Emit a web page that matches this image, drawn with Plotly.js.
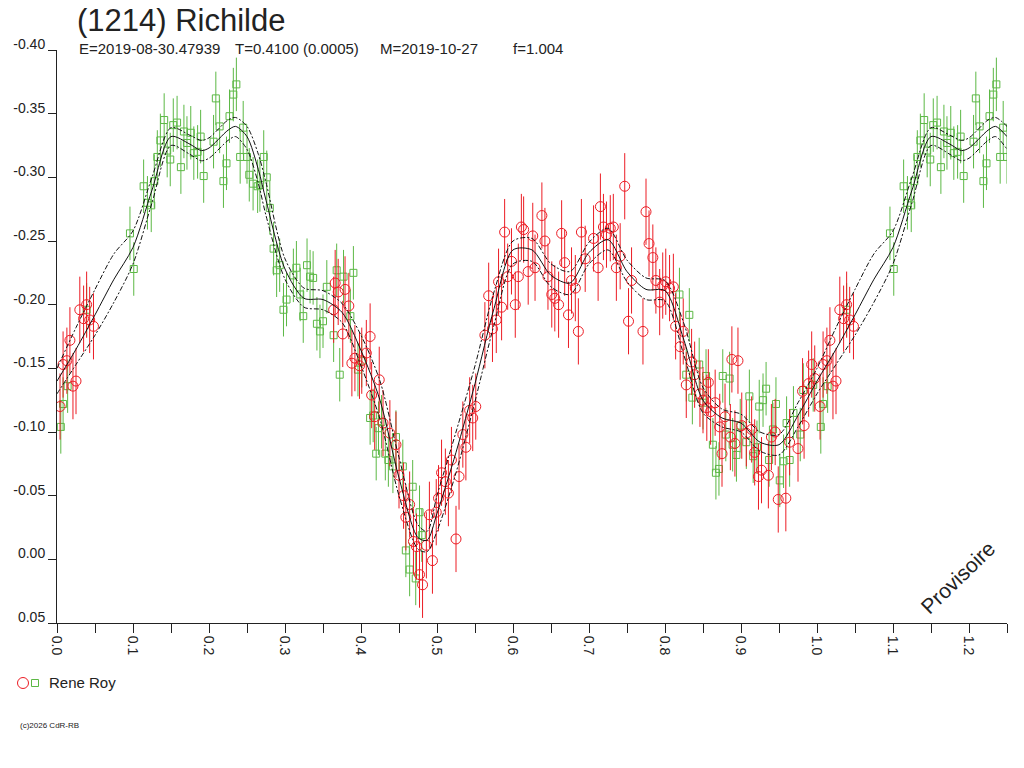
<!DOCTYPE html>
<html>
<head>
<meta charset="utf-8">
<script src="https://cdn.plot.ly/plotly-3.0.1.min.js"></script>
<style>
  html, body { margin: 0; padding: 0; background: #fff; }
  #chart { width: 1024px; height: 768px; }
</style>
</head>
<body>
<div id="chart"></div>
<script>
// observations, phase 0..1 (re-plotted up to 1.25)
let greenPhase = [0.005,0.008,0.014,0.039,0.096,0.101,0.114,0.119,0.124,0.128,0.132,0.136,0.141,0.145,
  0.149,0.153,0.158,0.163,0.167,0.171,0.176,0.180,0.185,0.189,0.193,0.206,0.209,0.214,0.219,0.223,0.227,
  0.232,0.236,0.241,0.245,0.250,0.253,0.258,0.264,0.267,0.272,0.276,0.280,0.285,0.289,0.293,0.298,0.302,
  0.311,0.315,0.320,0.324,0.329,0.333,0.337,0.342,0.346,0.350,0.355,0.364,0.368,0.372,0.377,0.386,0.390,
  0.396,0.401,0.412,0.416,0.420,0.423,0.427,0.432,0.436,0.442,0.446,0.455,0.468,0.477,0.480,0.459,0.464,
  0.472,0.819,0.832,0.828,0.836,0.845,0.854,0.850,0.863,0.867,0.871,0.876,0.885,0.880,0.889,0.894,0.899,
  0.907,0.911,0.916,0.921,0.924,0.929,0.933,0.937,0.942,0.946,0.951,0.956,0.960,0.964,0.969,0.978,0.982,0.995];
let greenMag = [-0.104,-0.122,-0.136,-0.196,-0.256,-0.228,-0.293,-0.280,-0.278,-0.297,-0.316,-0.329,-0.345,-0.321,
  -0.314,-0.341,-0.343,-0.308,-0.336,-0.327,-0.335,-0.319,-0.320,-0.332,-0.301,-0.328,-0.362,-0.340,-0.297,-0.311,-0.348,
  -0.365,-0.373,-0.316,-0.339,-0.316,-0.302,-0.295,-0.293,-0.294,-0.316,-0.300,-0.276,-0.244,-0.227,-0.231,-0.196,-0.204,
  -0.223,-0.229,-0.208,-0.191,-0.231,-0.222,-0.221,-0.185,-0.179,-0.187,-0.214,-0.176,-0.227,-0.145,-0.222,-0.191,-0.225,
  -0.149,-0.156,-0.111,-0.113,-0.083,-0.103,-0.108,-0.083,-0.078,-0.073,-0.096,-0.073,-0.057,-0.037,-0.019,-0.007,0.008,
  0.015,-0.208,-0.192,-0.145,-0.127,-0.153,-0.144,-0.123,-0.090,-0.068,-0.071,-0.144,-0.142,-0.098,-0.090,-0.082,-0.105,
  -0.092,-0.128,-0.081,-0.088,-0.120,-0.125,-0.134,-0.078,-0.102,-0.122,-0.062,-0.077,-0.107,-0.078,-0.115,-0.098,-0.133,-0.137];
let greenErr = 0.021;

let redPhase = [0.004,0.008,0.013,0.017,0.021,0.025,0.030,0.035,0.039,0.043,0.048,
  0.364,0.366,0.370,0.376,0.379,0.384,0.388,0.392,0.398,0.401,0.407,0.412,0.414,0.418,0.424,0.429,0.438,0.446,0.450,0.456,
  0.459,0.464,0.469,0.473,0.477,0.481,0.486,0.490,0.494,0.499,0.502,0.506,0.511,0.515,0.519,0.525,0.529,0.534,0.538,0.543,
  0.547,0.551,0.563,0.568,0.573,0.578,0.581,0.585,0.589,0.593,0.598,0.603,0.607,0.611,0.614,0.620,0.626,0.629,0.638,0.642,
  0.646,0.651,0.655,0.660,0.664,0.668,0.673,0.677,0.682,0.686,0.690,0.695,0.706,0.712,0.715,0.719,0.723,0.728,0.732,0.736,
  0.741,0.747,0.752,0.756,0.771,0.775,0.779,0.784,0.788,0.793,0.797,0.801,0.806,0.811,0.814,0.820,0.824,0.828,0.835,0.839,
  0.846,0.855,0.857,0.850,0.866,0.860,0.872,0.879,0.888,0.896,0.875,0.886,0.892,0.901,0.907,0.914,0.918,0.923,0.927,0.936,
  0.940,0.945,0.949,0.959,0.964,0.975,0.983,0.981,0.989,0.993,0.997];
let redMag = [-0.120,-0.153,-0.156,-0.172,-0.136,-0.140,-0.196,-0.189,-0.200,-0.188,-0.183,
  -0.196,-0.217,-0.210,-0.177,-0.212,-0.199,-0.154,-0.158,-0.152,-0.156,-0.162,-0.175,-0.129,-0.112,-0.141,-0.107,-0.099,-0.090,-0.066,-0.050,
  -0.033,-0.043,-0.014,-0.010,0.012,0.020,-0.011,-0.035,0.001,-0.037,-0.048,-0.068,-0.061,-0.052,-0.078,-0.016,-0.065,-0.098,-0.088,-0.117,
  -0.111,-0.120,-0.176,-0.207,-0.181,-0.188,-0.218,-0.198,-0.257,-0.222,-0.234,-0.200,-0.222,-0.261,-0.259,-0.226,-0.254,-0.229,-0.270,-0.250,
  -0.222,-0.208,-0.205,-0.200,-0.256,-0.233,-0.192,-0.219,-0.213,-0.179,-0.257,-0.236,-0.252,-0.229,-0.277,-0.261,-0.255,-0.260,-0.261,-0.229,
  -0.238,-0.293,-0.187,-0.219,-0.179,-0.273,-0.248,-0.237,-0.219,-0.202,-0.215,-0.218,-0.213,-0.214,-0.183,-0.167,-0.179,-0.137,-0.155,-0.145,
  -0.130,-0.119,-0.139,-0.125,-0.123,-0.116,-0.104,-0.112,-0.157,-0.156,-0.083,-0.096,-0.091,-0.105,-0.099,-0.102,-0.084,-0.065,-0.070,-0.066,
  -0.096,-0.100,-0.047,-0.048,-0.092,-0.087,-0.105,-0.132,-0.138,-0.153,-0.142];
let redErr = 0.026;

// fitted curve and its envelope
let fitPhase = [0,0.025,0.05,0.075,0.1,0.125,0.15,0.175,0.19,0.2,0.225,0.235,0.25,0.265,0.275,0.3,0.325,0.35,0.375,
  0.4,0.425,0.45,0.475,0.487,0.5,0.525,0.55,0.575,0.6,0.625,0.65,0.675,0.7,0.725,0.75,0.775,0.8,0.825,0.85,0.875,
  0.9,0.925,0.95,0.975,1.0];
let fitMid = [-0.140,-0.165,-0.192,-0.220,-0.245,-0.290,-0.332,-0.326,-0.321,-0.323,-0.337,-0.340,-0.332,-0.306,-0.282,
  -0.228,-0.205,-0.204,-0.194,-0.164,-0.125,-0.064,-0.017,-0.015,-0.036,-0.084,-0.138,-0.197,-0.243,-0.243,-0.223,-0.217,
  -0.241,-0.251,-0.226,-0.212,-0.211,-0.172,-0.125,-0.111,-0.107,-0.092,-0.090,-0.113,-0.140];
let fitHigh = [-0.150,-0.182,-0.212,-0.240,-0.258,-0.300,-0.339,-0.333,-0.329,-0.331,-0.345,-0.347,-0.340,-0.318,-0.296,
  -0.236,-0.213,-0.211,-0.201,-0.176,-0.140,-0.080,-0.027,-0.022,-0.050,-0.100,-0.152,-0.210,-0.250,-0.252,-0.232,-0.226,
  -0.249,-0.260,-0.235,-0.221,-0.219,-0.185,-0.135,-0.118,-0.114,-0.100,-0.098,-0.123,-0.150];
let fitLow = [-0.130,-0.153,-0.176,-0.202,-0.232,-0.280,-0.325,-0.318,-0.313,-0.315,-0.329,-0.332,-0.322,-0.295,-0.270,
  -0.220,-0.198,-0.196,-0.186,-0.152,-0.110,-0.050,-0.008,-0.006,-0.022,-0.068,-0.124,-0.184,-0.232,-0.234,-0.214,-0.208,
  -0.232,-0.243,-0.218,-0.204,-0.203,-0.160,-0.115,-0.104,-0.100,-0.085,-0.082,-0.104,-0.130];

let xTickVals = [0,0.05,0.1,0.15,0.2,0.25,0.3,0.35,0.4,0.45,0.5,0.55,0.6,0.65,0.7,0.75,0.8,0.85,0.9,0.95,1.0,1.05,1.1,1.15,1.2,1.25];
let xTickText = ['0.0','','0.1','','0.2','','0.3','','0.4','','0.5','','0.6','','0.7','','0.8','','0.9','','1.0','','1.1','','1.2',''];
let yTickVals = [-0.40,-0.35,-0.30,-0.25,-0.20,-0.15,-0.10,-0.05,0.00,0.05];
let yTickText = ['-0.40','-0.35','-0.30','-0.25','-0.20','-0.15','-0.10','-0.05','0.00','0.05'];

// header pieces (elements of the subtitle line) and where each starts, px from the left axis
let headerText = ['E=2019-08-30.47939', 'T=0.4100 (0.0005)', 'M=2019-10-27', 'f=1.004'];
let headerPos = [20, 176, 321, 454];

// phases below 0.25 are shown a second time after 1.0
function wrap(ph, vals, inclusiveZero) {
    let x = ph.slice();
    let y = vals.slice();
    for (let i = 0; i < ph.length; i++) {
        if (ph[i] <= 0.25 && (inclusiveZero || ph[i] > 0)) {
            x.push(ph[i] + 1);
            y.push(vals[i]);
        }
    }
    return {x: x, y: y};
}

let g = wrap(greenPhase, greenMag, true);
let r = wrap(redPhase, redMag, true);
let fm = wrap(fitPhase, fitMid, false);
let fh = wrap(fitPhase, fitHigh, false);
let fl = wrap(fitPhase, fitLow, false);

let RED = '#ec1c24';
let GREEN = '#5cb845';
let FONT = 'Liberation Sans, Arial, sans-serif';

let data = [
    {
        x: g.x, y: g.y, type: 'scatter', mode: 'markers',
        marker: {symbol: 'square-open', size: 7, color: GREEN, line: {width: 1, color: GREEN}},
        error_y: {type: 'constant', value: greenErr, color: GREEN, thickness: 1, width: 0},
        hoverinfo: 'skip'
    },
    {
        x: r.x, y: r.y, type: 'scatter', mode: 'markers',
        marker: {symbol: 'circle-open', size: 10, color: RED, line: {width: 1, color: RED}},
        error_y: {type: 'constant', value: redErr, color: RED, thickness: 1, width: 0},
        hoverinfo: 'skip'
    },
    {
        x: fh.x, y: fh.y, type: 'scatter', mode: 'lines',
        line: {color: '#111', width: 1, dash: '5px,2px,2px,2px', shape: 'spline', smoothing: 0.8}
    },
    {
        x: fl.x, y: fl.y, type: 'scatter', mode: 'lines',
        line: {color: '#111', width: 1, dash: '5px,2px,2px,2px', shape: 'spline', smoothing: 0.8}
    },
    {
        x: fm.x, y: fm.y, type: 'scatter', mode: 'lines',
        line: {color: '#111', width: 1, shape: 'spline', smoothing: 0.8}
    }
];

let annotations = headerText.map(function (t, i) {
    return {
        text: t,
        xref: 'paper', yref: 'paper', x: headerPos[i] / 950, y: 1 + 2 / 573,
        xanchor: 'left', yanchor: 'middle', showarrow: false,
        font: {family: FONT, size: 15, color: '#222'}
    };
});

annotations.push(
    {
        text: 'Provisoire',
        xref: 'paper', yref: 'paper', x: 0.948, y: 0.080,
        xanchor: 'center', yanchor: 'middle', showarrow: false, textangle: -44,
        font: {family: FONT, size: 21, color: '#222'}
    },
    {
        text: 'Rene Roy',
        xref: 'paper', yref: 'paper', x: -10 / 950, y: -60 / 573,
        xanchor: 'left', yanchor: 'middle', showarrow: false,
        font: {family: FONT, size: 15, color: '#222'}
    },
    {
        text: '(c)2026 CdR-RB',
        xref: 'paper', yref: 'paper', x: -39 / 950, y: -102 / 573,
        xanchor: 'left', yanchor: 'middle', showarrow: false,
        font: {family: FONT, size: 8, color: '#222'}
    }
);

let layout = {
    width: 1024,
    height: 768,
    showlegend: false,
    paper_bgcolor: '#fff',
    plot_bgcolor: '#fff',
    margin: {l: 57, r: 17, t: 50, b: 145},
    font: {family: FONT, color: '#222', size: 14},
    title: {
        text: '(1214) Richilde',
        font: {family: FONT, size: 31, color: '#222'},
        xref: 'container', yref: 'container',
        x: 77 / 1024, xanchor: 'left',
        y: 1 - 20 / 768, yanchor: 'middle'
    },
    xaxis: {
        range: [0, 1.25],
        tickmode: 'array', tickvals: xTickVals, ticktext: xTickText,
        tickangle: 90,
        ticks: 'outside', ticklen: 9, tickcolor: '#222', tickwidth: 1,
        showline: true, linecolor: '#222', linewidth: 1,
        showgrid: false, zeroline: false,
        tickfont: {family: FONT, size: 14, color: '#222'}
    },
    yaxis: {
        range: [0.05, -0.40],
        tickmode: 'array', tickvals: yTickVals, ticktext: yTickText,
        ticks: 'outside', ticklen: 8, tickcolor: '#222', tickwidth: 1,
        ticklabelshift: 6,
        showline: true, linecolor: '#222', linewidth: 1,
        showgrid: false, zeroline: false,
        tickfont: {family: FONT, size: 14, color: '#222'}
    },
    annotations: annotations,
    shapes: [
        {
            type: 'circle', xref: 'paper', yref: 'paper',
            xsizemode: 'pixel', ysizemode: 'pixel',
            xanchor: -34 / 950, yanchor: -60 / 573,
            x0: -5.5, x1: 5.5, y0: -5.5, y1: 5.5,
            line: {color: RED, width: 1}
        },
        {
            type: 'rect', xref: 'paper', yref: 'paper',
            xsizemode: 'pixel', ysizemode: 'pixel',
            xanchor: -22 / 950, yanchor: -60 / 573,
            x0: -3.5, x1: 3.5, y0: -3.5, y1: 3.5,
            line: {color: GREEN, width: 1}
        }
    ]
};

Plotly.newPlot('chart', data, layout, {displayModeBar: false, staticPlot: true});
</script>
</body>
</html>
